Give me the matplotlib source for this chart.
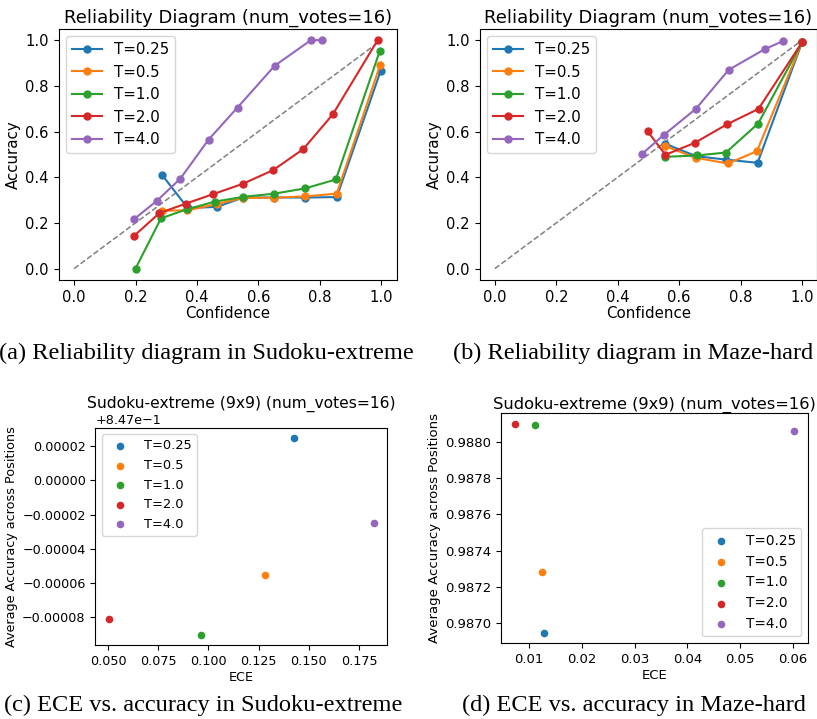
#Calibration figure: reliability diagrams and ECE vs accuracy for several temperatures

import matplotlib
matplotlib.use('Agg')
import matplotlib.pyplot as plt

temps = ['T=0.25', 'T=0.5', 'T=1.0', 'T=2.0', 'T=4.0']

#reliability bins for Sudoku-extreme (confidence, accuracy)
sudoku_conf = [
	[0.287, 0.370, 0.465, 0.550, 0.651, 0.753, 0.855, 0.998],
	[0.285, 0.369, 0.464, 0.550, 0.651, 0.753, 0.855, 0.996],
	[0.200, 0.283, 0.366, 0.458, 0.551, 0.652, 0.752, 0.852, 0.995],
	[0.195, 0.278, 0.363, 0.453, 0.549, 0.648, 0.746, 0.842, 0.988],
	[0.194, 0.270, 0.346, 0.438, 0.532, 0.653, 0.771, 0.806],
]
sudoku_acc = [
	[0.409, 0.265, 0.270, 0.311, 0.311, 0.311, 0.313, 0.866],
	[0.253, 0.255, 0.282, 0.310, 0.310, 0.316, 0.328, 0.891],
	[0.000, 0.220, 0.259, 0.293, 0.314, 0.328, 0.351, 0.390, 0.953],
	[0.143, 0.243, 0.284, 0.326, 0.371, 0.431, 0.523, 0.675, 1.000],
	[0.215, 0.297, 0.394, 0.565, 0.705, 0.888, 1.000, 1.000],
]

#reliability bins for Maze-hard
maze_conf = [
	[0.553, 0.655, 0.752, 0.855, 1.000],
	[0.555, 0.653, 0.759, 0.853, 1.000],
	[0.553, 0.657, 0.752, 0.857, 1.000],
	[0.497, 0.555, 0.650, 0.756, 0.858, 1.000],
	[0.479, 0.550, 0.654, 0.761, 0.879, 0.938],
]
maze_acc = [
	[0.547, 0.492, 0.477, 0.463, 0.991],
	[0.536, 0.485, 0.460, 0.514, 0.991],
	[0.489, 0.495, 0.508, 0.635, 0.991],
	[0.601, 0.498, 0.550, 0.632, 0.699, 0.991],
	[0.502, 0.585, 0.699, 0.870, 0.961, 0.996],
]

#ECE and average accuracy per temperature
sudoku_ece = [0.1425, 0.1280, 0.0961, 0.0502, 0.1825]
sudoku_avg_acc = [0.8470249, 0.8469449, 0.8469095, 0.8469188, 0.8469750]
maze_ece = [0.0129, 0.0124, 0.0112, 0.00728, 0.0603]
maze_avg_acc = [0.986948, 0.987282, 0.988092, 0.988098, 0.988057]

colors = ['tab:blue', 'tab:orange', 'tab:green', 'tab:red', 'tab:purple']

captions = [
	'(a) Reliability diagram in Sudoku-extreme',
	'(b) Reliability diagram in Maze-hard',
	'(c) ECE vs. accuracy in Sudoku-extreme',
	'(d) ECE vs. accuracy in Maze-hard',
]

W, H = 817, 719

def px_axes(fig, left, top, width, height):
	#place an axes using pixel coordinates measured from the top left
	return fig.add_axes([left / W, 1 - (top + height) / H, width / W, height / H])

def reliability(ax, confs, accs):
	ax.plot([0, 1], [0, 1], '--', color='gray', lw=1.1)
	for conf, acc, label, c in zip(confs, accs, temps, colors):
		ax.plot(conf, acc, marker='o', ms=5, lw=1.5, color=c, label=label)
	ax.set_title('Reliability Diagram (num_votes=16)', fontsize=13, pad=4)
	ax.set_xlabel('Confidence', fontsize=10.8, labelpad=1)
	ax.set_ylabel('Accuracy', fontsize=10.8, labelpad=3)
	ax.tick_params(labelsize=10.6)
	ax.legend(loc='upper left', fontsize=10.8)

def ece_scatter(ax, ece, acc, loc, fs, title_fs, leg_fs, pad):
	for x, y, label, c in zip(ece, acc, temps, colors):
		ax.scatter(x, y, s=20, color=c, label=label)
	ax.set_title('Sudoku-extreme (9x9) (num_votes=16)', fontsize=title_fs, pad=pad)
	ax.set_xlabel('ECE', fontsize=fs, labelpad=2)
	ax.set_ylabel('Average Accuracy across Positions', fontsize=fs, labelpad=3)
	ax.tick_params(labelsize=fs)
	ax.yaxis.get_offset_text().set_fontsize(fs)
	ax.legend(loc=loc, fontsize=leg_fs)

fig = plt.figure(figsize=(W / 100, H / 100), dpi=100)

ax_a = px_axes(fig, 58.7, 28.7, 338, 251.3)
reliability(ax_a, sudoku_conf, sudoku_acc)

ax_b = px_axes(fig, 479.5, 28.7, 338, 251.3)
reliability(ax_b, maze_conf, maze_acc)

ax_c = px_axes(fig, 95.3, 427.7, 292, 217.6)
ece_scatter(ax_c, sudoku_ece, sudoku_avg_acc, 'upper left', 9.2, 11.2, 9.4, 14)

ax_d = px_axes(fig, 500.7, 413.3, 307.6, 230)
ece_scatter(ax_d, maze_ece, maze_avg_acc, 'lower right', 9.5, 11.7, 9.8, 3.5)

#subfigure captions
cap_pos = [(206, 359), (633, 359), (203, 711), (634, 711)]
for (cx, cy), text in zip(cap_pos, captions):
	fig.text(cx / W, 1 - cy / H, text, ha='center', va='baseline',
		family='Liberation Serif', fontsize=17.6)

plt.savefig('out.png', dpi=100)
